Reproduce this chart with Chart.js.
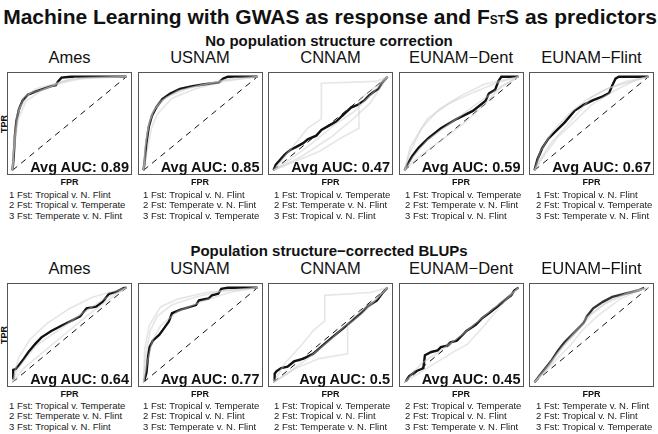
<!DOCTYPE html>
<html>
<head>
<meta charset="utf-8">
<script src="https://cdn.jsdelivr.net/npm/chart.js@4.4.1/dist/chart.umd.min.js"></script>
<style>
  body { margin: 0; background: #fff; font-family: "Liberation Sans", Arial, sans-serif; color: #111; }
  #page { position: relative; width: 658px; height: 434px; overflow: hidden; }
  .txt { position: absolute; white-space: nowrap; line-height: 1; }
  .center { transform: translate(-50%, -50%); }
  .box { position: absolute; border: 1px solid #555; box-sizing: border-box; }
  .box canvas { display: block; }
</style>
</head>
<body>
<div id="page"></div>
<script>
// titles of each panel and the rows
var rowTitles = ["No population structure correction", "Population structure\u2212corrected BLUPs"];
var panelNames = ["Ames", "USNAM", "CNNAM", "EUNAM\u2212Dent", "EUNAM\u2212Flint",
                  "Ames", "USNAM", "CNNAM", "EUNAM\u2212Dent", "EUNAM\u2212Flint"];
var aucLabels = ["0.89", "0.85", "0.47", "0.59", "0.67", "0.64", "0.77", "0.5", "0.45", null];
var legendLines = [
    ["1 Fst: Tropical v. N. Flint", "2 Fst: Tropical v. Temperate", "3 Fst: Temperate v. N. Flint"],
    ["1 Fst: Tropical v. N. Flint", "2 Fst: Temperate v. N. Flint", "3 Fst: Tropical v. Temperate"],
    ["1 Fst: Tropical v. Temperate", "2 Fst: Temperate v. N. Flint", "3 Fst: Tropical v. N. Flint"],
    ["1 Fst: Tropical v. Temperate", "2 Fst: Temperate v. N. Flint", "3 Fst: Tropical v. N. Flint"],
    ["1 Fst: Tropical v. N. Flint", "2 Fst: Tropical v. Temperate", "3 Fst: Temperate v. N. Flint"],
    ["1 Fst: Tropical v. Temperate", "2 Fst: Temperate v. N. Flint", "3 Fst: Tropical v. N. Flint"],
    ["1 Fst: Tropical v. Temperate", "2 Fst: Tropical v. N. Flint", "3 Fst: Temperate v. N. Flint"],
    ["1 Fst: Tropical v. Temperate", "2 Fst: Tropical v. N. Flint", "2 Fst: Temperate v. N. Flint"],
    ["2 Fst: Tropical v. Temperate", "2 Fst: Tropical v. N. Flint", "3 Fst: Temperate v. N. Flint"],
    ["1 Fst: Temperate v. N. Flint", "2 Fst: Tropical v. N. Flint", "3 Fst: Tropical v. Temperate"]
];

// average ROC curves, [FPR, TPR]
var meanCurves = [
    [[0,0],[0.01,0.15],[0.02,0.36],[0.034,0.53],[0.056,0.65],[0.09,0.75],[0.136,0.81],[0.2,0.84],[0.27,0.87],[0.34,0.9],[0.38,0.91],[0.4,0.95],[0.43,0.99],[0.51,1],[1,1]],
    [[0,0],[0.011,0.11],[0.025,0.29],[0.045,0.46],[0.073,0.58],[0.11,0.67],[0.165,0.76],[0.235,0.82],[0.32,0.87],[0.43,0.9],[0.54,0.92],[0.66,0.94],[0.7,0.98],[0.74,1],[1,1]],
    [[0,0],[0.02,0.06],[0.05,0.1],[0.1,0.17],[0.15,0.22],[0.2,0.25],[0.26,0.29],[0.3,0.33],[0.375,0.37],[0.42,0.43],[0.49,0.48],[0.55,0.52],[0.6,0.58],[0.68,0.67],[0.74,0.7],[0.8,0.75],[0.84,0.8],[0.88,0.84],[0.92,0.87],[0.95,0.93],[1,1]],
    [[0,0],[0.025,0.06],[0.067,0.15],[0.123,0.24],[0.207,0.34],[0.32,0.45],[0.46,0.55],[0.6,0.635],[0.71,0.74],[0.74,0.82],[0.795,0.86],[0.823,0.95],[0.85,1],[1,1]],
    [[0,0],[0.025,0.115],[0.067,0.236],[0.123,0.34],[0.18,0.41],[0.263,0.51],[0.35,0.635],[0.43,0.7],[0.515,0.75],[0.6,0.79],[0.655,0.826],[0.683,0.91],[0.711,0.98],[0.74,1],[1,1]],
    [[0.006,0.03],[0.006,0.13],[0.028,0.14],[0.056,0.18],[0.1,0.25],[0.14,0.32],[0.2,0.406],[0.254,0.475],[0.34,0.543],[0.424,0.595],[0.508,0.646],[0.593,0.697],[0.65,0.783],[0.734,0.8],[0.79,0.85],[0.847,0.937],[0.904,0.954],[0.975,0.995],[1,1]],
    [[0.005,0.01],[0.025,0.097],[0.039,0.268],[0.053,0.371],[0.081,0.44],[0.137,0.5],[0.165,0.546],[0.221,0.64],[0.25,0.73],[0.32,0.766],[0.46,0.817],[0.487,0.868],[0.57,0.886],[0.6,0.92],[0.655,0.937],[0.683,0.988],[0.74,1],[1,1]],
    [[0.01,0.01],[0.01,0.09],[0.025,0.115],[0.067,0.15],[0.123,0.165],[0.18,0.22],[0.263,0.25],[0.347,0.3],[0.43,0.388],[0.515,0.474],[0.6,0.56],[0.683,0.645],[0.767,0.73],[0.823,0.8],[0.908,0.868],[0.963,0.954],[1,1]],
    [[0.011,0.01],[0.039,0.063],[0.095,0.114],[0.165,0.148],[0.179,0.286],[0.235,0.32],[0.291,0.337],[0.319,0.371],[0.375,0.388],[0.403,0.423],[0.459,0.44],[0.515,0.508],[0.543,0.543],[0.627,0.611],[0.683,0.68],[0.74,0.731],[0.795,0.783],[0.852,0.834],[0.88,0.868],[0.936,0.92],[0.963,0.971],[1,1]],
    [[0,0],[0.04,0.063],[0.095,0.148],[0.151,0.234],[0.207,0.337],[0.263,0.423],[0.319,0.491],[0.375,0.56],[0.431,0.628],[0.459,0.697],[0.515,0.783],[0.6,0.851],[0.683,0.903],[0.795,0.937],[0.908,0.971],[0.963,1]]
];

// individual replicate curves (light grey)
var greyCurves = [
    [[[0,0],[0.01,0.3],[0.04,0.6],[0.1,0.78],[0.2,0.87],[0.35,0.92],[0.5,0.97],[0.7,0.99],[1,1]],
     [[0,0],[0.02,0.35],[0.06,0.66],[0.15,0.82],[0.3,0.88],[0.45,0.94],[0.6,0.98],[1,1]],
     [[0,0],[0.01,0.2],[0.05,0.55],[0.12,0.74],[0.25,0.85],[0.4,0.93],[0.55,0.99],[1,1]]],
    [[[0,0],[0.01,0.2],[0.04,0.45],[0.08,0.62],[0.15,0.74],[0.3,0.85],[0.5,0.91],[0.7,0.96],[1,1]],
     [[0,0],[0.02,0.3],[0.05,0.52],[0.1,0.66],[0.2,0.78],[0.4,0.88],[0.65,0.95],[0.8,0.99],[1,1]],
     [[0,0],[0.03,0.2],[0.07,0.45],[0.12,0.6],[0.25,0.77],[0.45,0.87],[0.7,0.95],[1,1]]],
    [[[0,0],[0.1,0.15],[0.2,0.3],[0.3,0.45],[0.42,0.55],[0.42,0.93],[0.9,0.95],[1,1]],
     [[0,0],[0.2,0.1],[0.4,0.2],[0.6,0.35],[0.75,0.45],[0.75,0.75],[0.9,0.9],[1,1]],
     [[0,0],[0.15,0.12],[0.35,0.3],[0.55,0.5],[0.7,0.62],[0.85,0.8],[1,1]],
     [[0,0],[0.25,0.15],[0.5,0.35],[0.7,0.55],[0.85,0.72],[1,1]]],
    [[[0,0],[0.05,0.2],[0.15,0.45],[0.3,0.65],[0.5,0.8],[0.7,0.92],[1,1]],
     [[0,0],[0.08,0.15],[0.2,0.32],[0.4,0.5],[0.6,0.68],[0.8,0.85],[1,1]],
     [[0,0],[0.1,0.12],[0.3,0.3],[0.5,0.48],[0.7,0.7],[0.85,0.9],[1,1]],
     [[0,0],[0.05,0.25],[0.2,0.55],[0.4,0.72],[0.6,0.83],[0.8,0.93],[1,1]]],
    [[[0,0],[0.05,0.2],[0.15,0.4],[0.3,0.6],[0.45,0.75],[0.6,0.85],[0.8,0.95],[1,1]],
     [[0,0],[0.08,0.15],[0.2,0.35],[0.35,0.52],[0.5,0.7],[0.7,0.85],[0.9,0.97],[1,1]],
     [[0,0],[0.05,0.12],[0.15,0.3],[0.3,0.5],[0.5,0.78],[0.65,0.88],[1,1]]],
    [[[0,0],[0.05,0.25],[0.15,0.45],[0.3,0.62],[0.5,0.78],[0.7,0.9],[1,1]],
     [[0,0],[0.1,0.15],[0.25,0.3],[0.45,0.5],[0.65,0.7],[0.85,0.88],[1,1]],
     [[0,0],[0.05,0.15],[0.2,0.38],[0.4,0.55],[0.6,0.72],[0.8,0.88],[1,1]]],
    [[[0,0],[0.02,0.3],[0.06,0.55],[0.12,0.7],[0.25,0.82],[0.45,0.9],[0.7,0.97],[1,1]],
     [[0,0],[0.03,0.2],[0.08,0.45],[0.15,0.6],[0.3,0.75],[0.5,0.85],[0.75,0.95],[1,1]],
     [[0,0],[0.01,0.35],[0.05,0.6],[0.15,0.8],[0.3,0.88],[0.55,0.95],[1,1]]],
    [[[0,0],[0.1,0.2],[0.25,0.4],[0.35,0.55],[0.45,0.65],[0.45,0.92],[0.85,0.95],[1,1]],
     [[0,0],[0.2,0.15],[0.4,0.25],[0.65,0.3],[0.65,0.6],[0.8,0.75],[1,1]],
     [[0,0],[0.15,0.12],[0.3,0.25],[0.5,0.45],[0.7,0.68],[0.9,0.88],[1,1]]],
    [[[0,0],[0.2,0.15],[0.4,0.3],[0.55,0.4],[0.7,0.6],[0.85,0.82],[1,1]],
     [[0,0],[0.15,0.2],[0.3,0.32],[0.5,0.5],[0.7,0.7],[0.9,0.9],[1,1]]],
    [[[0,0],[0.1,0.12],[0.2,0.3],[0.3,0.45],[0.45,0.68],[0.6,0.82],[0.8,0.93],[1,1]],
     [[0,0],[0.12,0.18],[0.25,0.38],[0.35,0.5],[0.5,0.72],[0.65,0.86],[0.85,0.96],[1,1]],
     [[0,0],[0.08,0.1],[0.2,0.25],[0.32,0.4],[0.42,0.55],[0.55,0.7],[0.75,0.88],[0.95,0.99]]]
];

var page = document.getElementById('page');

function addText(str, x, y, css, cls) {
    var d = document.createElement('div');
    d.className = 'txt ' + (cls || '');
    d.style.cssText = css;
    d.style.left = x + 'px';
    d.style.top = y + 'px';
    d.innerHTML = str;
    page.appendChild(d);
    return d;
}

// main title
addText('Machine Learning with GWAS as response and F<span style="font-size:12px">ST</span>S as predictors',
    330, 16, 'font-weight:bold;font-size:21px;', 'center');
addText(rowTitles[0], 329, 40, 'font-weight:bold;font-size:15px;', 'center');
addText(rowTitles[1], 329, 250, 'font-weight:bold;font-size:15px;', 'center');

var rowTop = [72, 283];
var rowH = [103, 104];
var legendGap = [14.5, 13.5];
var boxW = 125;
var legendLeft = [9, 143, 274, 405, 536];

function drawPanel(p) {
    var row = Math.floor(p / 5), col = p % 5;
    var bx = 7 + col * 130.5;
    var by = rowTop[row];
    var bh = rowH[row];

    addText(panelNames[p], bx + boxW / 2, by - 15, 'font-size:16.5px;', 'center');
    addText('FPR', bx + boxW / 2, by + bh + 6.5, 'font-weight:bold;font-size:9px;', 'center');
    if (col === 0) {
        addText('TPR', 4, by + bh / 2, 'font-weight:bold;font-size:9px;transform:translate(-50%,-50%) rotate(-90deg);');
    }
    for (var k = 0; k < 3; k++) {
        addText(legendLines[p][k], legendLeft[col], by + bh + legendGap[row] + k * 10.5, 'font-size:9.5px;color:#222;');
    }

    var box = document.createElement('div');
    box.className = 'box';
    box.style.left = bx + 'px';
    box.style.top = by + 'px';
    box.style.width = boxW + 'px';
    box.style.height = bh + 'px';
    var cv = document.createElement('canvas');
    cv.width = boxW - 2;
    cv.height = bh - 2;
    box.appendChild(cv);
    page.appendChild(box);

    if (aucLabels[p]) {
        var a = addText('Avg AUC: ' + aucLabels[p], 0, by + bh - 15, 'font-weight:bold;font-size:14.5px;');
        a.style.left = '';
        a.style.right = (658 - (bx + boxW - 3)) + 'px';
    }

    var datasets = [];
    greyCurves[p].forEach(function(c) {
        datasets.push({ data: c, borderColor: 'rgba(200,200,200,0.45)', borderWidth: 1.6 });
    });
    datasets.push({ data: [[0, 0], [1, 1]], borderColor: '#111', borderWidth: 1, borderDash: [6, 5] });
    datasets.push({ data: meanCurves[p], borderColor: p === 9 ? '#333' : '#111', borderWidth: 2.4 });

    new Chart(cv.getContext('2d'), {
        type: 'line',
        data: { datasets: datasets },
        options: {
            responsive: false,
            animation: false,
            layout: { padding: 0 },
            elements: { point: { radius: 0 }, line: { tension: 0, fill: false } },
            scales: {
                x: { type: 'linear', min: -0.04, max: 1.04, display: false },
                y: { type: 'linear', min: -0.04, max: 1.04, display: false }
            },
            plugins: { legend: { display: false }, tooltip: { enabled: false } }
        }
    }); //end chart
}

for (var p = 0; p < 10; p++) {
    drawPanel(p);
}
</script>
</body>
</html>
